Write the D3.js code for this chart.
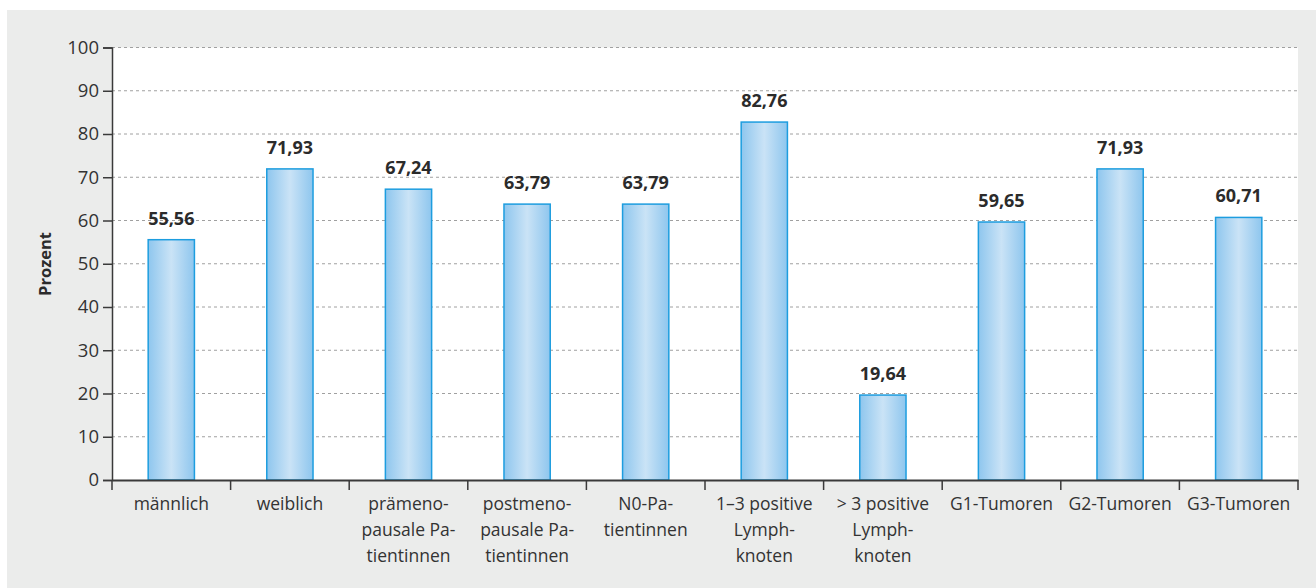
<!DOCTYPE html>
<html>
<head>
<meta charset="utf-8">
<script src="https://cdn.jsdelivr.net/npm/d3@7"></script>
<style>
  body { margin: 0; background: #fff; }
  text { font-family: "Open Sans", "Noto Sans", sans-serif; }
</style>
</head>
<body>
<div id="chart"></div>
<script>
// data
const categories = [
  ["männlich"],
  ["weiblich"],
  ["prämeno-", "pausale Pa-", "tientinnen"],
  ["postmeno-", "pausale Pa-", "tientinnen"],
  ["N0-Pa-", "tientinnen"],
  ["1–3 positive", "Lymph-", "knoten"],
  ["> 3 positive", "Lymph-", "knoten"],
  ["G1-Tumoren"],
  ["G2-Tumoren"],
  ["G3-Tumoren"]
];
const values = [55.56, 71.93, 67.24, 63.79, 63.79, 82.76, 19.64, 59.65, 71.93, 60.71];
const yTicks = [0, 10, 20, 30, 40, 50, 60, 70, 80, 90, 100];
const yTitle = "Prozent";

const width = 1316;
const height = 588;
const plot = { left: 112, right: 1298, top: 47.5, bottom: 480 };

const svg = d3.select("#chart")
  .append("svg")
  .attr("width", width)
  .attr("height", height);

// gradient for bars
const grad = svg.append("defs")
  .append("linearGradient")
  .attr("id", "barGrad")
  .attr("x1", "0%").attr("x2", "100%")
  .attr("y1", "0%").attr("y2", "0%");
grad.append("stop").attr("offset", "0%").attr("stop-color", "#8ec6ee");
grad.append("stop").attr("offset", "50%").attr("stop-color", "#cae3f6");
grad.append("stop").attr("offset", "100%").attr("stop-color", "#8ec6ee");

// backgrounds
svg.append("rect")
  .attr("x", 7).attr("y", 10)
  .attr("width", width - 7).attr("height", height - 10)
  .attr("fill", "#ebeceb");
svg.append("rect")
  .attr("x", plot.left).attr("y", plot.top)
  .attr("width", plot.right - plot.left).attr("height", plot.bottom - plot.top)
  .attr("fill", "#fff");

const x = d3.scaleBand()
  .domain(d3.range(categories.length))
  .range([plot.left, plot.right])
  .paddingInner(0.61)
  .paddingOuter(0.305);

const xOuter = d3.scaleBand()
  .domain(d3.range(categories.length))
  .range([plot.left, plot.right]);

const y = d3.scaleLinear()
  .domain([0, 100])
  .range([plot.bottom, plot.top]);

// gridlines
svg.append("g")
  .selectAll("line")
  .data(yTicks.filter(d => d > 0))
  .enter()
  .append("line")
  .attr("x1", plot.left)
  .attr("x2", plot.right)
  .attr("y1", d => y(d))
  .attr("y2", d => y(d))
  .attr("stroke", "#a0a0a0")
  .attr("stroke-width", 1)
  .attr("stroke-dasharray", "3,3");

// bars
svg.append("g")
  .selectAll("rect")
  .data(values)
  .enter()
  .append("rect")
  .attr("x", (d, i) => x(i))
  .attr("y", d => y(d))
  .attr("width", x.bandwidth())
  .attr("height", d => y(0) - y(d))
  .attr("fill", "url(#barGrad)")
  .attr("stroke", "#1d9ddf")
  .attr("stroke-width", 1.5);

// value labels
svg.append("g")
  .selectAll("text")
  .data(values)
  .enter()
  .append("text")
  .attr("x", (d, i) => x(i) + x.bandwidth() / 2)
  .attr("y", d => y(d) - 15)
  .attr("text-anchor", "middle")
  .attr("font-size", 18)
  .attr("font-weight", "bold")
  .attr("fill", "#2b2b2b")
  .text(d => d.toFixed(2).replace(".", ","));

// y axis
const yAxis = d3.axisLeft(y)
  .tickValues(yTicks)
  .tickSize(9)
  .tickPadding(4);

svg.append("g")
  .attr("transform", `translate(${plot.left},0)`)
  .call(yAxis)
  .call(g => g.select(".domain").attr("stroke", "#3a3a3a").attr("stroke-width", 1.5))
  .call(g => g.selectAll(".tick line").attr("stroke", "#3a3a3a").attr("stroke-width", 1.5))
  .call(g => g.selectAll(".tick text")
    .attr("font-size", 18.5)
    .attr("fill", "#333")
    .style("font-family", "'Open Sans', sans-serif"));

// x axis
const xAxis = d3.axisBottom(xOuter)
  .tickSize(0)
  .tickFormat("");

svg.append("g")
  .attr("transform", `translate(0,${plot.bottom})`)
  .call(xAxis)
  .call(g => g.select(".domain").attr("stroke", "#3a3a3a").attr("stroke-width", 2));

// x boundary ticks
const boundaries = d3.range(categories.length + 1).map(i => plot.left + i * xOuter.step());
svg.append("g")
  .selectAll("line")
  .data(boundaries)
  .enter()
  .append("line")
  .attr("x1", d => d).attr("x2", d => d)
  .attr("y1", plot.bottom).attr("y2", plot.bottom + 10)
  .attr("stroke", "#3a3a3a")
  .attr("stroke-width", 1.5);

// category labels
const labels = svg.append("g")
  .selectAll("text")
  .data(categories)
  .enter()
  .append("text")
  .attr("text-anchor", "middle")
  .attr("font-size", 17.5)
  .attr("fill", "#333")
  .attr("x", (d, i) => xOuter(i) + xOuter.bandwidth() / 2)
  .attr("y", 510);

labels.selectAll("tspan")
  .data(d => d)
  .enter()
  .append("tspan")
  .attr("x", function () { return d3.select(this.parentNode).attr("x"); })
  .attr("dy", (d, i) => i === 0 ? 0 : 26)
  .text(d => d);

// y title
svg.append("text")
  .attr("transform", "translate(51,264) rotate(-90)")
  .attr("text-anchor", "middle")
  .attr("font-size", 16.5)
  .attr("font-weight", "bold")
  .attr("fill", "#2b2b2b")
  .text(yTitle);
</script>
</body>
</html>
